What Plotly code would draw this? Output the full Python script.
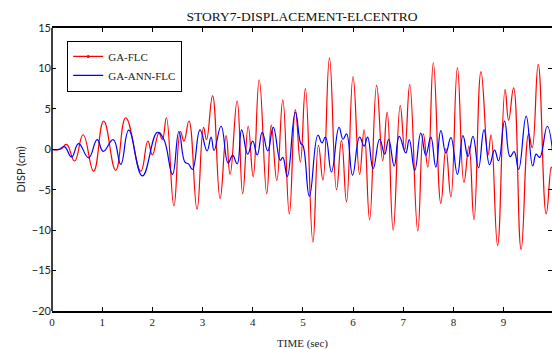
import plotly.graph_objects as go

# GA-FLC (red) — read extrema (time s, displacement cm)
ga_flc_t = [0, 0.17, 0.29, 0.45, 0.62, 0.83, 1.03, 1.27, 1.47, 1.77, 1.91, 2.0, 2.13, 2.2, 2.28,
            2.43, 2.56, 2.63, 2.73, 2.89, 3.02, 3.08, 3.2, 3.35, 3.47, 3.55, 3.69, 3.8, 3.91, 4.01,
            4.13, 4.28, 4.37, 4.48, 4.6, 4.73, 4.85, 4.95, 5.05, 5.2, 5.31, 5.4, 5.53, 5.67, 5.77,
            5.87, 6.0, 6.13, 6.22, 6.33, 6.47, 6.59, 6.68, 6.8, 6.94, 7.03, 7.13, 7.29, 7.4, 7.49,
            7.6, 7.75, 7.85, 7.95, 8.08, 8.21, 8.31, 8.41, 8.55, 8.69, 8.75, 8.88, 9.03, 9.1, 9.2,
            9.35, 9.5, 9.57, 9.69, 9.85, 9.95, 10.0]
ga_flc_v = [0, 0, 0.6, -1.45, 1.8, -2.7, 3.5, -2.6, 3.9, -2.7, 1.0, -0.7, 2.0, 1.2, 3.9,
            -7.0, 2.2, 1.0, 3.5, -7.4, 2.7, 1.2, 6.6, -6.1, 1.7, -3.1, 6.0, -5.5, 2.85, -3.4,
            8.6, -5.5, 3.0, -3.85, 6.1, -8.0, 4.9, -1.6, 7.5, -11.5, 0.5, -3.8, 11.3, -5.0, 1.1,
            -6.5, 9.0, -3.1, 2.4, -8.7, 7.9, -1.4, 4.6, -10.0, 5.4, -0.1, 8.0, -10.1, 1.9, -2.2,
            10.7, -6.7, 0.1, -5.9, 10.1, -4.1, 0.4, -8.7, 9.6, -0.7, 1.8, -11.9, 7.4, 3.6, 7.6,
            -12.4, 1.9, 0.2, 10.5, -8.0, -2.2, -4.3]

# GA-ANN-FLC (blue)
ga_ann_t = [0, 0.13, 0.25, 0.39, 0.53, 0.73, 0.9, 1.02, 1.22, 1.37, 1.53, 1.8, 2.1, 2.23, 2.4,
            2.53, 2.65, 2.72, 2.8, 2.95, 3.09, 3.17, 3.23, 3.37, 3.51, 3.6, 3.69, 3.78, 3.9, 4.0,
            4.09, 4.19, 4.3, 4.41, 4.55, 4.6, 4.69, 4.85, 4.96, 5.0, 5.13, 5.3, 5.38, 5.45, 5.57,
            5.72, 5.8, 5.87, 5.99, 6.13, 6.22, 6.29, 6.4, 6.53, 6.63, 6.71, 6.82, 6.92, 7.05, 7.12,
            7.23, 7.35, 7.45, 7.55, 7.65, 7.75, 7.85, 7.95, 8.08, 8.19, 8.29, 8.39, 8.5, 8.61, 8.72,
            8.82, 8.9, 9.02, 9.13, 9.21, 9.3, 9.45, 9.58, 9.65, 9.72, 9.87, 10.0]
ga_ann_v = [0, 0, 0.3, -0.95, 0.7, -1.05, 1.2, -0.25, 1.2, -1.86, 2.36, -3.3, 2.1, 1.2, -3.1,
            2.2, -1.6, -1.8, -2.5, 2.4, -0.2, 1.5, -0.15, 2.85, -1.7, -0.75, -1.8, 2.4, -0.6, 1.0,
            -0.7, 2.1, -0.2, 2.7, -1.36, -1.0, -3.35, 4.6, 0.7, 0.5, -5.8, 1.74, 0.8, 1.5, -2.8,
            2.7, 1.24, 1.9, -3.2, 1.5, 0.4, 1.5, -2.4, 1.24, -0.6, 1.24, -2.07, 1.6, -0.45, 1.2,
            -2.6, 2.0, -0.74, 1.5, -2.2, 2.3, -0.45, 1.45, -3.1, 1.7, -0.9, 1.6, -2.3, 2.4, -1.9,
            -0.1, -1.4, 3.5, -0.9, -0.3, -2.5, 4.1, -2.07, -0.6, -1.0, 2.85, -1.86]

x_ticks = [0, 1, 2, 3, 4, 5, 6, 7, 8, 9, 10]
y_ticks = [-20, -15, -10, -5, 0, 5, 10, 15]

SERIF = "Liberation Serif, Times New Roman, serif"
SANS = "Lato, Liberation Sans, sans-serif"
RED = "#ff0000"
BLUE = "#0000ff"

fig = go.Figure()
fig.add_trace(go.Scatter(x=ga_flc_t, y=ga_flc_v, name="GA-FLC", mode="lines", showlegend=False,
                         legendgroup="flc",
                         line=dict(color=RED, width=1.2, shape="spline", smoothing=1.3)))
fig.add_trace(go.Scatter(x=[None], y=[None], name="GA-FLC", mode="lines+markers",
                         legendgroup="flc",
                         line=dict(color=RED, width=1.2), marker=dict(size=3, color=RED)))
fig.add_trace(go.Scatter(x=ga_ann_t, y=ga_ann_v, name="GA-ANN-FLC", mode="lines",
                         line=dict(color=BLUE, width=1.2, shape="spline", smoothing=1.3)))

fig.update_layout(
    width=552, height=349,
    margin=dict(l=52, r=0, t=28, b=38),
    paper_bgcolor="white", plot_bgcolor="white",
    title=dict(text="STORY7-DISPLACEMENT-ELCENTRO", x=0.5, xref="paper", xanchor="center",
               y=1 - 16 / 349, yref="container", yanchor="middle",
               font=dict(family=SERIF, size=13.5, color="#111")),
    showlegend=True,
    legend=dict(x=0.03, y=0.955, xanchor="left", yanchor="top",
                bgcolor="white", bordercolor="black", borderwidth=1.2,
                font=dict(family=SERIF, size=11, color="#222"),
                tracegroupgap=0, itemwidth=30),
    xaxis=dict(range=[0, 9.965], tickvals=x_ticks, ticks="inside", ticklen=4,
               tickcolor="black", showline=True, linecolor="black", linewidth=1.5,
               mirror="ticks", showgrid=False, zeroline=False,
               tickfont=dict(family=SERIF, size=11, color="#222")),
    yaxis=dict(range=[-20, 15], tickvals=y_ticks, ticks="inside", ticklen=4,
               tickcolor="black", showline=False, mirror="ticks",
               showgrid=False, zeroline=False,
               tickfont=dict(family=SANS, size=11, color="#222")),
    shapes=[dict(type="line", xref="paper", yref="paper", x0=0, x1=0, y0=0, y1=1,
                 line=dict(color="black", width=1.5))],
    annotations=[
        dict(text="TIME (sec)", xref="paper", yref="paper", x=0.5, y=(311 - 343) / 283,
             xanchor="center", yanchor="middle", showarrow=False,
             font=dict(family=SERIF, size=11, color="#222")),
        dict(text="DISP (cm)", xref="paper", yref="paper", x=(20 - 52) / 500, y=0.5,
             xanchor="center", yanchor="middle", textangle=-90, showarrow=False,
             font=dict(family=SANS, size=11, color="#222")),
    ],
)

fig.write_html("out.html")
